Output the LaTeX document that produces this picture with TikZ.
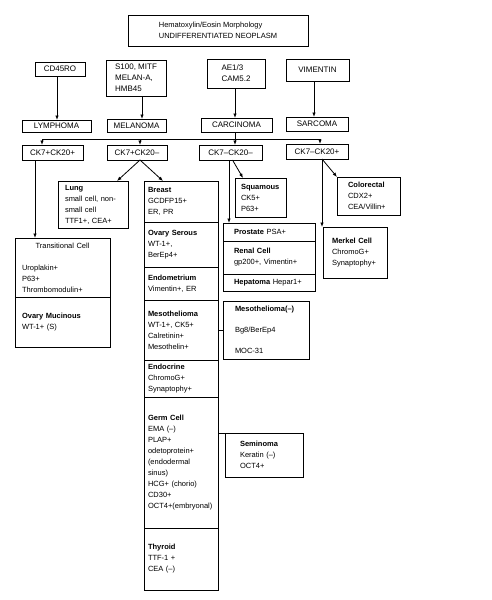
\documentclass[tikz,border=0pt]{standalone}
\usepackage{fontspec}
\setmainfont{Liberation Sans}
\usetikzlibrary{arrows.meta,positioning}

\begin{document}
\begin{tikzpicture}[x=1pt, y=-1pt, line width=0.8pt,
    font=\fontsize{7.5}{11}\selectfont,
    box/.style={draw, align=center, inner sep=1pt, outer sep=0pt},
    tag/.style={box, font=\fontsize{8}{11}\selectfont},
    cell/.style={draw, align=left, anchor=north west, outer sep=0pt, inner ysep=2pt},
    col/.style={cell, text width=66pt, inner xsep=4pt},
    arr/.style={-{Latex[length=4.5pt,width=3.5pt]}}]
    \useasboundingbox (0,0) rectangle (492,600);

    % Morphology
    \node[box, align=left, minimum width=180pt, minimum height=31pt] (he) at (218,30.5)
        {Hematoxylin/Eosin Morphology\\UNDIFFERENTIATED NEOPLASM};

    % Markers
    \node[tag, minimum width=50pt, minimum height=14pt] (cd45) at (60,69) {CD45RO};
    \node[tag, align=left, minimum width=60pt, minimum height=36pt] (s100) at (136,78) {S100, MITF\\MELAN-A,\\HMB45};
    \node[tag, align=left, minimum width=58pt, minimum height=29pt] (ae13) at (236,73.5) {AE1/3\\CAM5.2};
    \node[tag, minimum width=63pt, minimum height=22pt] (vim) at (317.5,70) {VIMENTIN};

    % Tumour types
    \node[tag, minimum width=69pt, minimum height=12pt] (lymph) at (56.5,126) {LYMPHOMA};
    \node[tag, minimum width=59pt, minimum height=13pt] (mel) at (136.5,125.5) {MELANOMA};
    \node[tag, minimum width=71pt, minimum height=14pt] (carc) at (236.5,125) {CARCINOMA};
    \node[tag, minimum width=62pt, minimum height=14pt] (sarc) at (317,124) {SARCOMA};

    % CK7/CK20 groups
    \node[tag, minimum width=61pt, minimum height=15pt] (ckpp) at (52.5,152.5) {CK7+CK20+};
    \node[tag, minimum width=60pt, minimum height=15pt] (ckpm) at (137,152.5) {CK7+CK20–};
    \node[tag, minimum width=63pt, minimum height=15pt] (ckmm) at (230.5,152.5) {CK7–CK20–};
    \node[tag, minimum width=62pt, minimum height=15pt] (ckmp) at (317,151.5) {CK7–CK20+};

    % CK7+CK20+
    \node[cell, text width=81pt, inner xsep=7pt, minimum height=59pt] (trans) at (15,238)
        {\makebox[\linewidth]{Transitional Cell}\\[11pt]Uroplakin+\\P63+\\Thrombomodulin+};
    \node[cell, text width=81pt, inner xsep=7pt, minimum height=50pt, below=0pt of trans] (ovmuc)
        {\textbf{Ovary Mucinous}\\WT-1+ (S)};

    % CK7+CK20-
    \node[cell, text width=56pt, inner xsep=7pt, minimum height=47pt] (lung) at (58,181)
        {\textbf{Lung}\\small cell, non-\\small cell\\TTF1+, CEA+};
    \node[col, minimum height=41pt] (breast) at (144,181) {\textbf{Breast}\\GCDFP15+\\ER, PR};
    \node[col, minimum height=45pt, below=0pt of breast] (ovser) {\textbf{Ovary Serous}\\WT-1+,\\BerEp4+};
    \node[col, minimum height=33pt, below=0pt of ovser] (endom) {\textbf{Endometrium}\\Vimentin+, ER};
    \node[col, minimum height=60pt, below=0pt of endom] (meso)
        {\textbf{Mesothelioma}\\WT-1+, CK5+\\Calretinin+\\Mesothelin+};
    \node[col, minimum height=37pt, below=0pt of meso] (endoc) {\textbf{Endocrine}\\ChromoG+\\Synaptophy+};
    \node[col, minimum height=131pt, below=0pt of endoc] (germ)
        {\textbf{Germ Cell}\\EMA (–)\\PLAP+\\odetoprotein+\\(endodermal\\sinus)\\HCG+ (chorio)\\CD30+\\OCT4+(embryonal)};
    \node[col, minimum height=62pt, below=0pt of germ] (thyr) {\textbf{Thyroid}\\TTF-1 +\\CEA (–)};

    % CK7-CK20-
    \node[cell, text width=39pt, inner xsep=6pt, minimum height=39pt] (squam) at (235,178)
        {\textbf{Squamous}\\CK5+\\P63+};
    \node[cell, text width=70pt, inner xsep=11pt, minimum height=18pt] (prost) at (223,223)
        {\textbf{Prostate} PSA+};
    \node[cell, text width=70pt, inner xsep=11pt, minimum height=33pt, below=0pt of prost] (renal)
        {\textbf{Renal Cell}\\gp200+, Vimentin+};
    \node[cell, text width=70pt, inner xsep=11pt, minimum height=17pt, below=0pt of renal] (hepat)
        {\textbf{Hepatoma} Hepar1+};
    \node[cell, text width=62pt, inner xsep=12pt, minimum height=58pt] (mesoneg) at (223,301)
        {\textbf{Mesothelioma(–)}\\[10pt]Bg8/BerEp4\\[10pt]MOC-31};
    \node[cell, text width=48pt, inner xsep=15pt, minimum height=44pt] (semi) at (225,433)
        {\textbf{Seminoma}\\Keratin (–)\\OCT4+};

    % CK7-CK20+
    \node[cell, text width=41pt, inner xsep=11pt, minimum height=38pt] (colo) at (337,177)
        {\textbf{Colorectal}\\CDX2+\\CEA/Villin+};
    \node[cell, text width=46pt, inner xsep=9pt, minimum height=51pt] (merk) at (323,227)
        {\textbf{Merkel Cell}\\ChromoG+\\Synaptophy+};

    % Markers -> tumour types
    \draw[arr] ([xshift=-3pt]cd45.south) -- ([xshift=-3pt]cd45.south |- lymph.north);
    \draw[arr] ([xshift=6pt]s100.south) -- ([xshift=6pt]s100.south |- mel.north);
    \draw[arr] ([xshift=-1pt]ae13.south) -- ([xshift=-1pt]ae13.south |- carc.north);
    \draw[arr] ([xshift=-3.5pt]vim.south) -- ([xshift=-3.5pt]vim.south |- sarc.north);

    % Carcinoma -> CK7/CK20 groups
    \coordinate (hub) at (235,139);
    \draw[arr] (carc.south -| hub) -- (ckmm.north -| hub);
    \draw[arr] (hub) -| ([xshift=-10.5pt]ckpp.north);
    \draw[arr] (hub) -| ([xshift=3pt]ckpm.north);
    \draw[arr] (hub) -| ([xshift=3pt]ckmp.north);

    % Groups -> sites
    \draw[arr] ([xshift=-17.5pt]ckpp.south) -- ([xshift=-17.5pt]ckpp.south |- trans.north);
    \draw[arr] ([xshift=3pt]ckpm.south) -- ([xshift=24pt]lung.north);
    \draw[arr] ([xshift=3pt]ckpm.south) -- ([xshift=-18pt]breast.north);
    \draw[arr] ([xshift=2pt]ckmm.south) -- ([xshift=-17.5pt]squam.north);
    \draw[arr] ([xshift=-1.5pt]ckmm.south) -- ([xshift=-1.5pt]ckmm.south |- prost.north);
    \draw[arr] ([xshift=5pt]ckmp.south) -- (colo.north west);
    \draw[arr] ([xshift=5pt]ckmp.south) -- ([xshift=5pt]ckmp.south |- merk.north);

    % Side links
    \draw (meso.east) -- (mesoneg.west);
    \draw (germ.east |- semi.north west) -- (semi.north west);
\end{tikzpicture}
\end{document}
